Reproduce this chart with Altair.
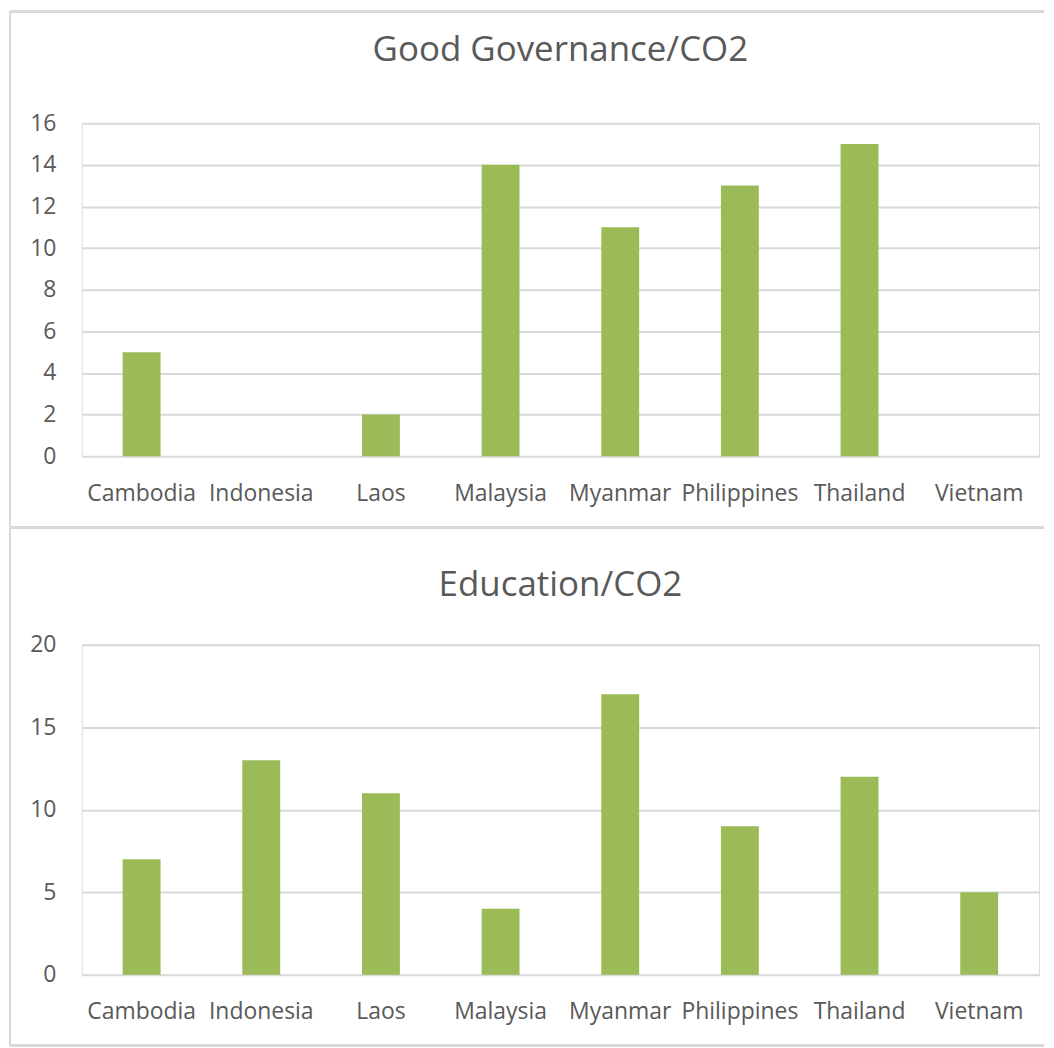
import altair as alt
import pandas as pd

countries = ["Cambodia", "Indonesia", "Laos", "Malaysia", "Myanmar", "Philippines", "Thailand", "Vietnam"]
governance = [5, 0, 2, 14, 11, 13, 15, 0]
education = [7, 13, 11, 4, 17, 9, 12, 5]

BAR = "#9BBB59"
GRID = "#D9D9D9"
TEXT = "#595959"
FONT = "Open Sans"

df_top = pd.DataFrame({"country": countries, "value": governance})
df_bot = pd.DataFrame({"country": countries, "value": education})


def panel(df, title, ymax, ystep, height, top_edge, bottom_edge, toffset):
    xenc = alt.X("country:N", sort=countries, title=None,
                 scale=alt.Scale(paddingInner=0, paddingOuter=0),
                 axis=alt.Axis(labelAngle=0, domain=False, ticks=False, grid=False,
                               labelPadding=26, labelFontSize=23, labelColor=TEXT,
                               labelFont=FONT))
    yenc = alt.Y("value:Q", title=None,
                 scale=alt.Scale(domain=[0, ymax], nice=False),
                 axis=alt.Axis(values=list(range(0, ymax + 1, ystep)), domain=False,
                               ticks=False, grid=True, gridColor=GRID, gridWidth=2,
                               labelPadding=26, labelFontSize=23, labelColor=TEXT,
                               labelFont=FONT))
    bars = alt.Chart(df).mark_bar(size=38, color=BAR).encode(x=xenc, y=yenc)
    left = alt.Chart(df).mark_rule(color=GRID, strokeWidth=2).encode(
        x=alt.value(-72), y=alt.value(top_edge), y2=alt.value(bottom_edge))
    top = alt.Chart(df).mark_rule(color=GRID, strokeWidth=2).encode(
        x=alt.value(-72), x2=alt.value(965), y=alt.value(top_edge))
    bottom = alt.Chart(df).mark_rule(color=GRID, strokeWidth=2).encode(
        x=alt.value(-72), x2=alt.value(965), y=alt.value(bottom_edge))
    return alt.layer(bars, left, top, bottom).properties(
        width=960, height=height,
        title=alt.TitleParams(title, fontSize=35, font=FONT, color=TEXT,
                              fontWeight="normal", anchor="middle", frame="group",
                              offset=toffset))


c1 = panel(df_top, "Good Governance/CO2", 16, 2, 334, -112, 405, -58)
c2 = panel(df_bot, "Education/CO2", 20, 5, 331, -117, 402, -76)

chart = alt.vconcat(c1, c2, spacing=189, bounds="flush").properties(
    padding=0
).configure_view(stroke=None).configure(background="white")

chart.save("out.html", embed_options={"renderer": "svg", "actions": False})
